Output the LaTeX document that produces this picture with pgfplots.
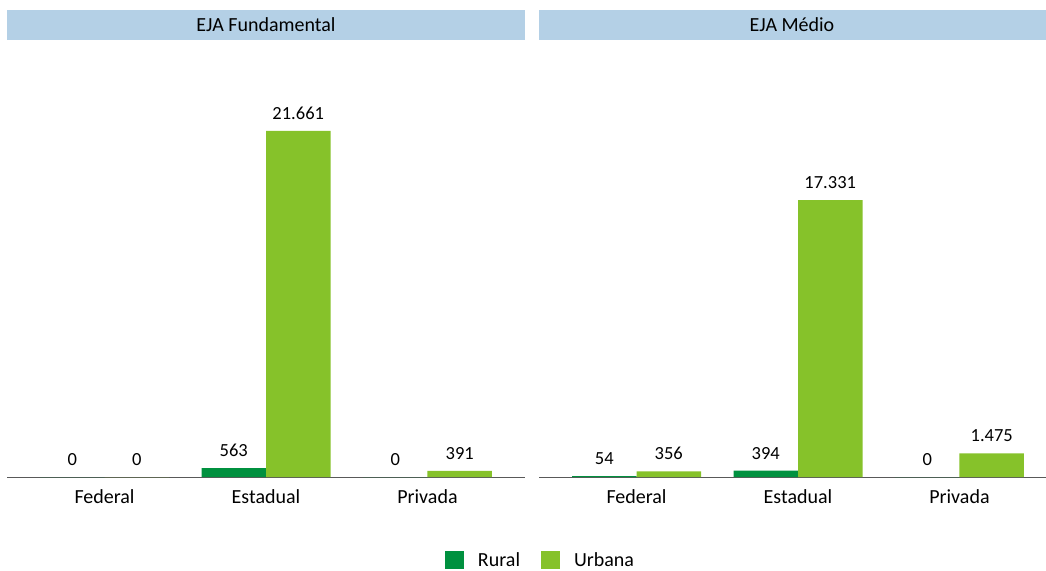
\documentclass[border=0pt]{standalone}
\usepackage{fontspec}
\setmainfont{Carlito}
\usepackage{pgfplots}
\pgfplotsset{compat=1.18}
\definecolor{rural}{RGB}{0,145,63}
\definecolor{urbana}{RGB}{134,194,42}
\definecolor{header}{RGB}{180,208,230}
\definecolor{axisgray}{RGB}{89,89,89}

\pgfplotstableread{
x rural urbana
0 0 0
1 563 21661
2 0 391
}\fundamental
\pgfplotstableread{
x rural urbana
0 54 356
1 394 17331
2 0 1475
}\medio

\pgfplotsset{
  panel/.style={
    scale only axis, width=518pt, height=400pt,
    ybar=0pt, bar width=64.5pt,
    xmin=-0.604, xmax=2.604, ymin=0, ymax=25040,
    axis x line=bottom, axis y line=none,
    axis line style={axisgray, line width=1pt, -},
    xtick={0,1,2}, xticklabels={Federal,Estadual,Privada},
    major tick length=0pt,
    xticklabel style={font=\fontsize{20}{23}\selectfont, yshift=-9pt},
    /pgf/number format/assume math mode=true,
    nodes near coords={\pgfmathprintnumber[1000 sep={.}]{\pgfplotspointmeta}},
    every node near coord/.append style={font=\fontsize{18.5}{21}\selectfont, black, yshift=8pt},
    clip=false,
  },
}

\begin{document}
\begin{tikzpicture}[x=1pt, y=1pt]
\useasboundingbox (0,0) rectangle (1046,570);
\fill[header] (7,530) rectangle (525,560);
\node[font=\fontsize{20}{23}\selectfont] at (266,545) {EJA Fundamental};
\fill[header] (539,530) rectangle (1057,560);
\node[font=\fontsize{20}{23}\selectfont] at (792,545) {EJA Médio};

\begin{axis}[panel, at={(7pt,93pt)}, anchor=south west,
  legend style={at={(rel axis cs:1.029,-0.2075)}, anchor=center, draw=none,
    legend columns=2, font=\fontsize{20}{23}\selectfont,
    inner sep=0pt, nodes={inner sep=1pt},
    /tikz/every odd column/.append style={column sep=13pt},
    /tikz/every even column/.append style={column sep=20pt}},
  legend image code/.code={\fill[#1] (0pt,-9pt) rectangle (19pt,9pt);},
]
\addplot[fill=rural, draw=none] table[x=x, y=rural] {\fundamental};
\addlegendentry{Rural}
\addplot[fill=urbana, draw=none] table[x=x, y=urbana] {\fundamental};
\addlegendentry{Urbana}
\end{axis}

\begin{axis}[panel, at={(539pt,93pt)}, anchor=south west]
\addplot[fill=rural, draw=none] table[x=x, y=rural] {\medio};
\addplot[fill=urbana, draw=none] table[x=x, y=urbana] {\medio};
\end{axis}
\end{tikzpicture}
\end{document}
